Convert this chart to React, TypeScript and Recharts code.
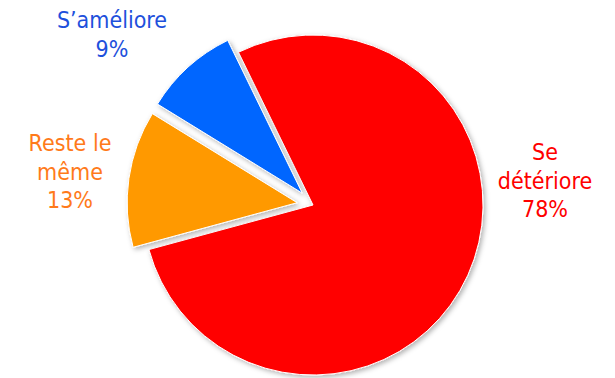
import { PieChart, Pie, Cell, Sector } from 'recharts';

const categories = ['Se détériore', 'Reste le même', "S’améliore"];
const shares = [78, 13, 9];
const sliceColors = ['#FF0000', '#FF9900', '#0066FF'];
const labelColors = ['#FF0000', '#FF7A1A', '#1E50DC'];
const labelLines = [['Se', 'détériore'], ['Reste le', 'même'], ["S’améliore"]];
const exploded = [0, 16, 16];

// label anchor relative to the pie centre
const labelOffsets = [
  { dx: 232, dy: -45 },
  { dx: -243, dy: -54 },
  { dx: -201, dy: -177 },
];

const data = categories.map((name, i) => ({ name, value: shares[i], idx: i }));

const RAD = Math.PI / 180;

const ExplodedSector = (props: any) => {
  const idx = props.payload?.idx ?? props.index ?? 0;
  const off = exploded[idx] || 0;
  const dx = off * Math.cos(-props.midAngle * RAD);
  const dy = off * Math.sin(-props.midAngle * RAD);
  return (
    <Sector
      {...props}
      cx={props.cx + dx}
      cy={props.cy + dy}
      stroke="#ffffff"
      strokeWidth={1}
      filter="url(#pieShadow)"
    />
  );
};

const renderLabel = (props: any) => {
  const { cx, cy, payload, index } = props;
  const idx = payload?.idx ?? index ?? 0;
  const o = labelOffsets[idx];
  const lines = [...labelLines[idx], `${shares[idx]}%`];
  const x = cx + o.dx;
  const y = cy + o.dy;
  return (
    <text
      x={x}
      y={y}
      textAnchor="middle"
      fill={labelColors[idx]}
      fontSize={23}
      fontFamily="'DejaVu Sans Condensed', 'DejaVu Sans', sans-serif"
      style={{ fontStretch: 'condensed' }}
    >
      {lines.map((l, i) => (
        <tspan key={i} x={x} dy={i === 0 ? 0 : 28.5}>
          {l}
        </tspan>
      ))}
    </text>
  );
};

export default function App() {
  return (
    <div style={{ position: 'absolute', left: 0, top: 0, width: 615, height: 378, background: '#fff' }}>
      <PieChart width={615} height={378} margin={{ top: 0, right: 0, bottom: 0, left: 0 }}>
        <defs>
          <filter id="pieShadow" x="-20%" y="-20%" width="140%" height="140%">
            <feDropShadow dx="2" dy="2" stdDeviation="2.5" floodColor="#000" floodOpacity="0.3" />
          </filter>
        </defs>
        <Pie
          data={data}
          dataKey="value"
          nameKey="name"
          cx={313}
          cy={205}
          outerRadius={170}
          startAngle={116}
          endAngle={-244}
          shape={ExplodedSector}
          label={renderLabel}
          labelLine={false}
          isAnimationActive={false}
        >
          {data.map((d, i) => (
            <Cell key={d.name} fill={sliceColors[i]} />
          ))}
        </Pie>
      </PieChart>
    </div>
  );
}
